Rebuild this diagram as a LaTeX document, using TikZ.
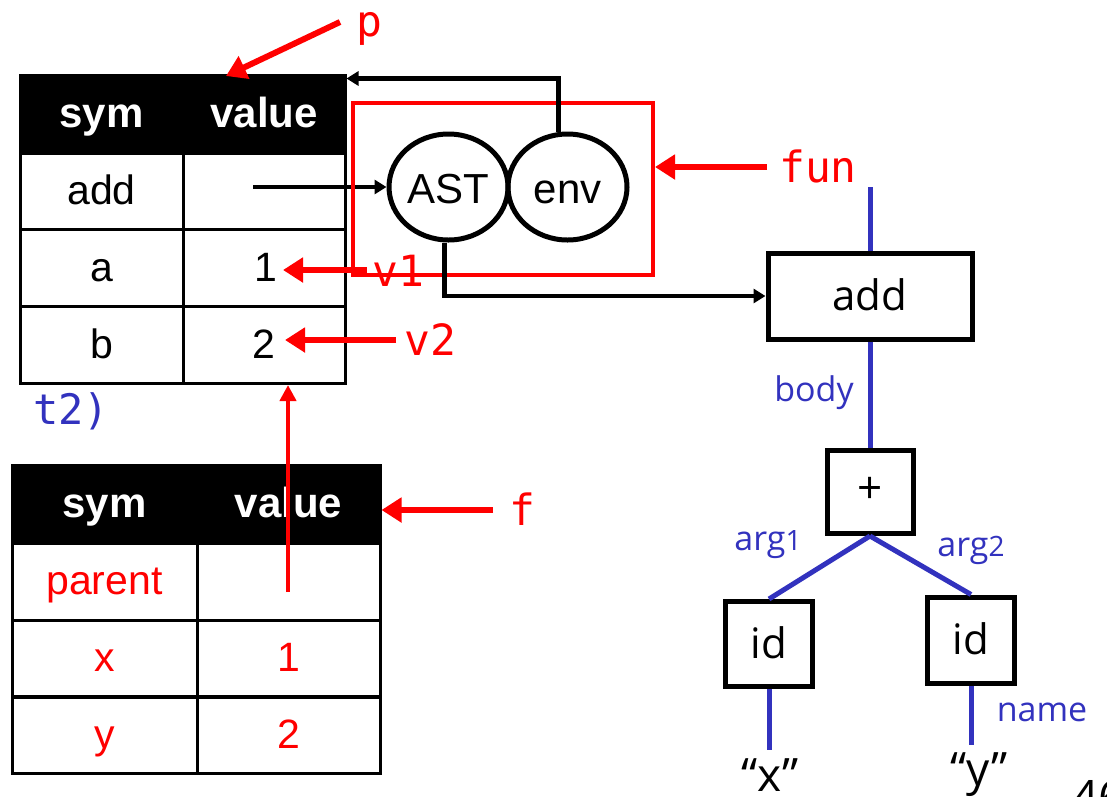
\documentclass[tikz,border=0pt]{standalone}
\usepackage{fontspec}
\setmainfont{Liberation Sans}
\newfontfamily\treefont{Open Sans}
\newfontfamily\codefont{DejaVu Sans Mono}
\usetikzlibrary{arrows.meta,shapes.geometric}
\definecolor{ared}{RGB}{255,0,0}
\definecolor{ablue}{RGB}{50,50,190}
\newcommand{\smalldig}[1]{{\fontsize{28}{28}\selectfont #1}}
\tikzset{
  hcell/.style={draw=black, fill=black, line width=3pt, text=white,
    font=\bfseries\fontsize{42}{42}\selectfont, minimum height=78pt, inner sep=0pt,
    text height=30pt, text depth=4pt},
  cell/.style={draw=black, line width=3pt, font=\fontsize{41}{41}\selectfont,
    minimum height=77pt, inner sep=0pt, text height=30pt, text depth=4pt},
  redcell/.style={cell, text=ared},
  treebox/.style={draw=black, line width=5pt, font=\treefont\fontsize{42}{42}\selectfont, inner sep=0pt,
    text height=30pt, text depth=2pt},
  treeedge/.style={draw=ablue, line width=5pt},
  redarrow/.style={draw=ared, line width=6pt, -{Triangle[length=20pt,width=24pt]}},
  redthin/.style={draw=ared, line width=4pt, -{Triangle[length=16pt,width=16pt]}},
  blackarrow/.style={draw=black, line width=4.5pt, -{Triangle[length=12pt,width=14pt]}},
  rlabel/.style={text=ared, font=\codefont\fontsize{43}{43}\selectfont, anchor=base, inner sep=0pt},
  blabel/.style={text=ablue, font=\treefont\fontsize{34}{34}\selectfont, inner sep=0pt},
  oval/.style={draw=black, line width=5pt, ellipse, minimum width=119pt, minimum height=106pt,
    inner sep=0pt, font=\fontsize{42}{42}\selectfont, text height=32pt, text depth=0pt}
}
\begin{document}
\begin{tikzpicture}[x=1pt,y=-1pt]
\useasboundingbox (0,0) rectangle (1107,796);
\fill[white] (0,0) rectangle (1107,796);

% table 1
\node[hcell, minimum width=163pt] (t1hs) at (101.5,114) {sym};
\node[hcell, minimum width=162pt] (t1hv) at (264,114) {value};
\node[cell, minimum width=163pt] (t1r1s) at (101.5,191) {add};
\node[cell, minimum width=162pt] (t1r1v) at (264,191) {};
\node[cell, minimum width=163pt] (t1r2s) at (101.5,268) {a};
\node[cell, minimum width=162pt] (t1r2v) at (264,268) {\hspace*{3pt}1};
\node[cell, minimum width=163pt] (t1r3s) at (101.5,345) {b};
\node[cell, minimum width=162pt] (t1r3v) at (264,345) {2};

% table 2
\node[hcell, minimum width=185pt] (t2hs) at (104.5,504) {sym};
\node[hcell, minimum width=183pt] (t2hv) at (288.5,504) {value};
\node[redcell, minimum width=185pt] (t2r1s) at (104.5,581.5) {parent};
\node[cell, minimum width=183pt] (t2r1v) at (288.5,581.5) {};
\node[redcell, minimum width=185pt] (t2r2s) at (104.5,658.5) {x};
\node[redcell, minimum width=183pt] (t2r2v) at (288.5,658.5) {1};
\node[redcell, minimum width=185pt] (t2r3s) at (104.5,735) {y};
\node[redcell, minimum width=183pt] (t2r3v) at (288.5,735) {2};

% code fragment
\node[text=ablue, font=\codefont\fontsize{42}{42}\selectfont, anchor=base west, inner sep=0pt] (t2c) at (33,424) {t2)};

% closure ellipses
\node[oval] (AST) at (448.5,187) {AST};
\node[oval] (env) at (567.5,187) {env};

% black arrow from add row
\coordinate (addptr) at (253,187);
\draw[blackarrow] (addptr) -- (AST.west);

% red fun box
\node[draw=ared, line width=4pt, minimum width=300pt, minimum height=172pt, inner sep=0pt] (funbox) at (503,189) {};

% red labels
\node[rlabel] (plbl) at (369,36) {p};
\node[rlabel] (v1lbl) at (398,286) {v1};
\node[rlabel] (v2lbl) at (430,355) {v2};
\node[rlabel] (flbl) at (522,525) {f};
\node[rlabel] (funlbl) at (818,182) {fun};

% red arrows
\coordinate (pA) at (340,22);
\coordinate (pB) at (226,76);
\draw[redarrow] (pA) -- (pB);
\coordinate (v1A) at (367,270);
\draw[redarrow] (v1A) -- (v1A -| 283,0);
\coordinate (v2A) at (396,340);
\draw[redarrow] (v2A) -- (v2A -| 285,0);
\coordinate (fA) at (493,510);
\draw[redarrow] (fA) -- (fA -| t2hv.east);
\coordinate (funA) at (767,167);
\draw[redarrow] (funA) -- (funA -| funbox.east);
\coordinate (parA) at (288,592);
\draw[redthin] (parA) -- (parA |- t1r3v.south);

% black arrows of closure
\draw[blackarrow] ([xshift=-9pt]env.north) |- ([yshift=-5pt]t1hv.north east);

% AST tree
\node[treebox, minimum width=204pt, minimum height=86pt] (addbox) at (870,296) {add};
\draw[blackarrow] ([xshift=-4pt]AST.south) |- (addbox.west);
\node[treebox, minimum width=86pt, minimum height=83pt, font=\treefont\fontsize{44}{44}\selectfont,
  text height=22pt, text depth=0pt] (plus) at (870,492) {+};
\node[treebox, minimum width=87pt, minimum height=85pt] (id1) at (769,644) {id};
\node[treebox, minimum width=87pt, minimum height=86pt] (id2) at (971,640) {id};
\coordinate (funtop) at (870,187);
\draw[treeedge] (funtop) -- (addbox.north);
\draw[treeedge] (addbox.south) -- (plus.north);
\draw[treeedge] (plus.south) -- (id1.north);
\draw[treeedge] (plus.south) -- (id2.north);
\coordinate (xend) at (769,750);
\coordinate (yend) at (971,745);
\draw[treeedge] (id1.south) -- (xend);
\draw[treeedge] (id2.south) -- (yend);
\node[blabel] (bodylbl) at (814,393) {body};
\node[blabel] (arg1lbl) at (768,545) {arg\smalldig{1}};
\node[blabel] (arg2lbl) at (971,550) {arg\smalldig{2}};
\node[blabel] (namelbl) at (1042,712) {name};
\node[font=\treefont\fontsize{46}{46}\selectfont, anchor=base, inner sep=0pt] (xstr) at (770,791) {“x”};
\node[font=\treefont\fontsize{46}{46}\selectfont, anchor=base, inner sep=0pt] (ystr) at (979,785) {“y”};
\node[font=\treefont\fontsize{46}{46}\selectfont, anchor=north west, inner sep=0pt] (pagenum) at (1072,780) {46};
\end{tikzpicture}
\end{document}
